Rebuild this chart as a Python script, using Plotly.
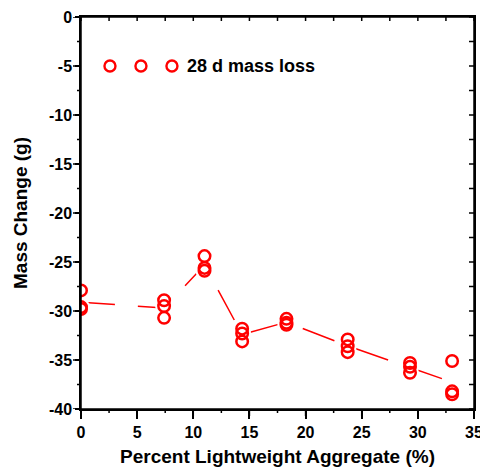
import numpy as np
import plotly.graph_objects as go

# Data
lwa_pct = [0.0, 7.4, 11.0, 14.35, 18.3, 23.75, 29.3, 33.05]
mass_change = [
    [-27.9, -29.6, -29.8],
    [-28.9, -29.5, -30.7],
    [-24.4, -25.6, -25.9],
    [-31.8, -32.3, -33.1],
    [-30.8, -31.2, -31.4],
    [-32.9, -33.6, -34.2],
    [-35.3, -35.7, -36.3],
    [-35.1, -38.2, -38.5],
]
series_name = "28 d mass loss"
y_tickvals = [0, -5, -10, -15, -20, -25, -30, -35, -40]
y_ticktext = ["0", "-5", "-10", "-15", "-20", "-25", "-30", "-35", "-40"]
x_tickvals = [0, 5, 10, 15, 20, 25, 30, 35]
x_ticktext = ["0", "5", "10", "15", "20", "25", "30", "35"]
x_range = [0, 35]
y_range = [-40, 0]
minor_step = 2.5

RED = "#ff0000"
FONT = "Liberation Sans"
BOLD = dict(family=FONT, size=16, color="black", weight="bold")
W, H = 480, 468
PL, PR, PT, PB = 81, 474, 17, 409  # plot-area edges in pixels

xs = [x for x, ys in zip(lwa_pct, mass_change) for _ in ys]
ys_all = [y for ys in mass_change for y in ys]
means = [float(np.mean(ys)) for ys in mass_change]

fig = go.Figure()
fig.add_trace(go.Scatter(x=lwa_pct, y=means, mode="lines",
                         line=dict(color=RED, width=1.5, dash="34px,23px"),
                         showlegend=False, hoverinfo="skip"))
fig.add_trace(go.Scatter(x=xs, y=ys_all, mode="markers",
                         marker=dict(symbol="circle", size=18, color="white",
                                     line=dict(width=0)),
                         showlegend=False, hoverinfo="skip"))
fig.add_trace(go.Scatter(x=xs, y=ys_all, mode="markers", name=series_name,
                         marker=dict(symbol="circle-open", size=11.5, color=RED,
                                     line=dict(width=2.5, color=RED)),
                         showlegend=False))

# legend drawn as in the original: three circles + label
for xc in [2.58, 5.34, 8.1]:
    fig.add_shape(type="circle", xref="x", yref="y", xsizemode="pixel",
                  ysizemode="pixel", xanchor=xc, yanchor=-5,
                  x0=-5.5, x1=5.5, y0=-5.5, y1=5.5,
                  line=dict(color=RED, width=2.4))
fig.add_annotation(x=9.3, y=-5, xref="x", yref="y", text=series_name,
                   showarrow=False, xanchor="left", yanchor="middle",
                   font=dict(family=FONT, size=18, color="black", weight="bold"))

# frame and tick marks (outward on bottom/left, inward on top/right)
TICK = dict(color="black", width=1.5)
fig.add_shape(type="rect", xref="x domain", yref="y domain", x0=0, x1=1, y0=0, y1=1,
              line=TICK, layer="above")
for v in np.arange(x_range[0], x_range[1] + 1e-9, minor_step):
    major = abs(v / 5 - round(v / 5)) < 1e-9
    fig.add_shape(type="line", xref="x", yref="y domain", ysizemode="pixel", yanchor=0,
                  x0=v, x1=v, y0=-(7 if major else 4), y1=0, line=TICK)
    fig.add_shape(type="line", xref="x", yref="y domain", ysizemode="pixel", yanchor=1,
                  x0=v, x1=v, y0=-4, y1=0, line=TICK)
for v in np.arange(y_range[0], y_range[1] + 1e-9, minor_step):
    major = abs(v / 5 - round(v / 5)) < 1e-9
    fig.add_shape(type="line", xref="x domain", yref="y", xsizemode="pixel", xanchor=0,
                  y0=v, y1=v, x0=-(8 if major else 4), x1=0, line=TICK)
    fig.add_shape(type="line", xref="x domain", yref="y", xsizemode="pixel", xanchor=1,
                  y0=v, y1=v, x0=-5, x1=0, line=TICK)

base = dict(showgrid=False, zeroline=False, showline=True, mirror=True,
            linecolor="black", linewidth=1.5, ticks="outside", tickwidth=1.5,
            tickcolor="black", automargin=False, tickfont=BOLD,
            ticklabeloverflow="allow")

fig.update_xaxes(range=x_range, domain=[PL / W, PR / W],
                 tickmode="array", tickvals=x_tickvals, ticktext=x_ticktext,
                 ticklen=8,
                 title=dict(text="Percent Lightweight Aggregate (%)",
                            font=dict(family=FONT, size=19, weight="bold", color="black"),
                            standoff=10),
                 **base)
fig.update_yaxes(range=y_range, domain=[(H - PB) / H, (H - PT) / H],
                 tickmode="array", tickvals=y_tickvals, ticktext=y_ticktext,
                 ticklen=4,
                 title=dict(text="Mass Change (g)",
                            font=dict(family=FONT, size=19, weight="bold", color="black"),
                            standoff=16),
                 **base)

fig.update_layout(
    width=W, height=H,
    margin=dict(l=0, r=0, t=0, b=0, pad=0, autoexpand=False),
    plot_bgcolor="white", paper_bgcolor="white", showlegend=False,
    font=dict(family=FONT, size=16, color="black"),
)

fig.write_html("out.html")
